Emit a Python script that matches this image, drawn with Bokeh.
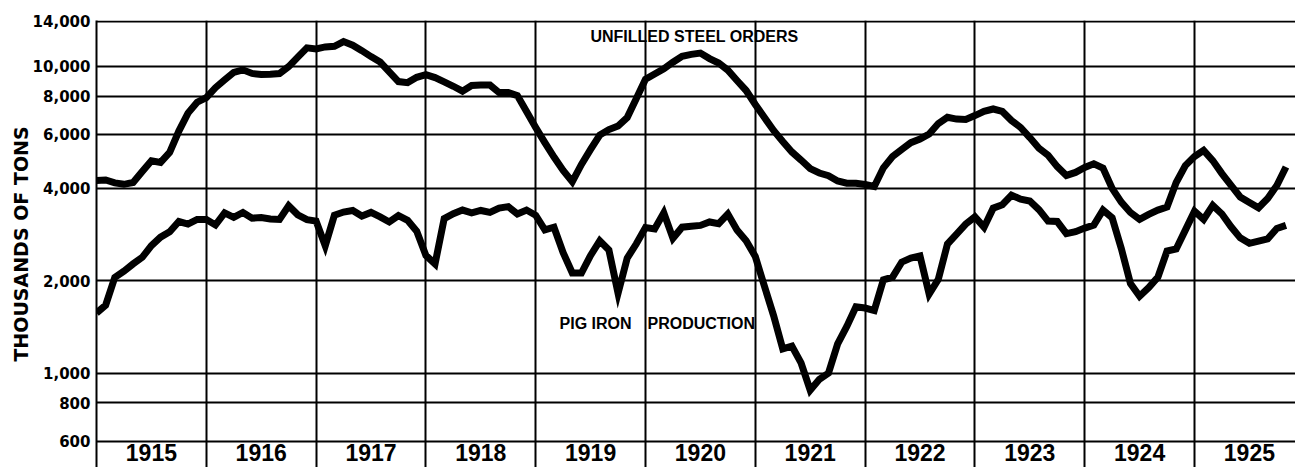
import numpy as np
from bokeh.plotting import figure
from bokeh.models import Range1d, FixedTicker, NumeralTickFormatter, Grid
from bokeh.core.properties import value
from bokeh.embed import file_html
from bokeh.resources import INLINE

# ---------------- data ----------------
start_year = 1915
years = [1915, 1916, 1917, 1918, 1919, 1920, 1921, 1922, 1923, 1924, 1925]
year_labels = ["1915", "1916", "1917", "1918", "1919", "1920", "1921", "1922", "1923", "1924", "1925"]
y_ticks = [600, 800, 1000, 2000, 4000, 6000, 8000, 10000, 14000]

# monthly, Jan 1915 .. Nov 1925, thousands of tons
unfilled_orders = [
    4244, 4260, 4170, 4125, 4180, 4540, 4920, 4860, 5240, 6150, 7040, 7640,
    7910, 8520, 9030, 9560, 9740, 9480, 9400, 9420, 9470, 9980, 10720, 11490,
    11400, 11570, 11620, 12040, 11720, 11250, 10760, 10330, 9590, 8920, 8850, 9210,
    9400, 9190, 8900, 8610, 8300, 8660, 8690, 8690, 8210, 8210, 8030, 7120,
    6320, 5640, 5060, 4580, 4210, 4790, 5360, 5970, 6220, 6390, 6810, 7850,
    9080, 9440, 9810, 10310, 10780, 10940, 11050, 10600, 10250, 9720, 8990, 8340,
    7510, 6810, 6180, 5690, 5260, 4950, 4640, 4490, 4400, 4230, 4160, 4160,
    4120, 4060, 4670, 5080, 5360, 5640, 5790, 6020, 6510, 6820, 6730, 6710,
    6910, 7130, 7260, 7130, 6660, 6320, 5860, 5410, 5130, 4710, 4410, 4510,
    4680, 4810, 4660, 4000, 3610, 3340, 3170, 3290, 3400, 3480, 4180, 4750,
    5080, 5320, 4930, 4470, 4090, 3750, 3600, 3460, 3710, 4090, 4700,
]
pig_iron = [
    1570, 1665, 2050, 2150, 2270, 2385, 2605, 2775, 2890, 3120, 3060, 3170,
    3170, 3040, 3330, 3220, 3340, 3200, 3215, 3180, 3170, 3510, 3280, 3165,
    3130, 2600, 3270, 3350, 3390, 3250, 3340, 3230, 3110, 3260, 3150, 2900,
    2420, 2270, 3190, 3310, 3400, 3330, 3390, 3340, 3450, 3490, 3300, 3400,
    3270, 2930, 2990, 2470, 2120, 2120, 2420, 2700, 2520, 1820, 2370, 2640,
    2980, 2950, 3330, 2750, 2990, 3010, 3030, 3110, 3070, 3300, 2930, 2700,
    2400, 1920, 1540, 1200, 1225, 1080, 880, 955, 1000, 1245, 1420, 1645,
    1630, 1600, 2015, 2055, 2300, 2370, 2410, 1810, 2020, 2635, 2840, 3060,
    3230, 2990, 3450, 3540, 3800, 3690, 3640, 3410, 3130, 3120, 2850, 2890,
    2970, 3040, 3400, 3210, 2550, 1960, 1780, 1900, 2055, 2500, 2540, 2925,
    3370, 3170, 3520, 3300, 3000, 2760, 2650, 2695, 2740, 2960, 3030,
]

months = start_year + np.arange(len(unfilled_orders)) / 12.0

# ---------------- figure ----------------
p = figure(
    width=1295, height=467,
    output_backend="svg", toolbar_location=None,
    y_axis_type="log", x_axis_location=None,
    x_range=Range1d(1915, 1925.92), y_range=Range1d(492.5, 14105),
    min_border_left=96, min_border_top=20, min_border_right=0, min_border_bottom=0,
)
p.outline_line_color = None
p.background_fill_color = "white"
p.border_fill_color = "white"

yticker = FixedTicker(ticks=y_ticks, minor_ticks=[])
yax = p.yaxis[0]
yax.ticker = yticker
yax.formatter = NumeralTickFormatter(format="0,0")
yax.major_tick_line_color = None
yax.minor_tick_line_color = None
yax.major_tick_out = 0
yax.major_tick_in = 0
yax.minor_tick_out = 0
yax.minor_tick_in = 0
yax.axis_line_color = "black"
yax.axis_line_width = 2
yax.major_label_standoff = 6
yax.major_label_text_font = "DejaVu Sans"
yax.major_label_text_font_style = "bold"
yax.major_label_text_font_size = "15px"
yax.major_label_text_color = "black"
yax.axis_label = "THOUSANDS OF TONS"
yax.axis_label_text_font = "DejaVu Sans"
yax.axis_label_text_font_style = "bold"
yax.axis_label_text_font_size = "19px"
yax.axis_label_text_color = "black"
yax.axis_label_standoff = -2

p.ygrid.ticker = yticker
p.ygrid.grid_line_color = "black"
p.ygrid.grid_line_width = 2

xgrid = Grid(dimension=0, ticker=FixedTicker(ticks=years[1:], minor_ticks=[]),
             grid_line_color="black", grid_line_width=2)
p.add_layout(xgrid)

p.line(months, unfilled_orders, line_color="black", line_width=7, line_join="miter")
p.line(months, pig_iron, line_color="black", line_width=7, line_join="miter")

# year labels
p.text(x=[y + 0.5 for y in years], y=[551] * len(years), text=year_labels,
       text_align="center", text_baseline="middle",
       text_font=value("Liberation Sans"), text_font_style="bold",
       text_font_size="23px", text_color="black")

# series labels
p.text(x=[1919.499], y=[12511], text=["UNFILLED STEEL ORDERS"],
       text_align="left", text_baseline="middle",
       text_font=value("Liberation Sans"), text_font_style="bold",
       text_font_size="16px", text_color="black")
p.text(x=[1919.217, 1920.018], y=[1446, 1446], text=["PIG IRON", "PRODUCTION"],
       text_align="left", text_baseline="middle",
       text_font=value("Liberation Sans"), text_font_style="bold",
       text_font_size="16px", text_color="black")

open("out.html", "w").write(file_html(p, INLINE))
